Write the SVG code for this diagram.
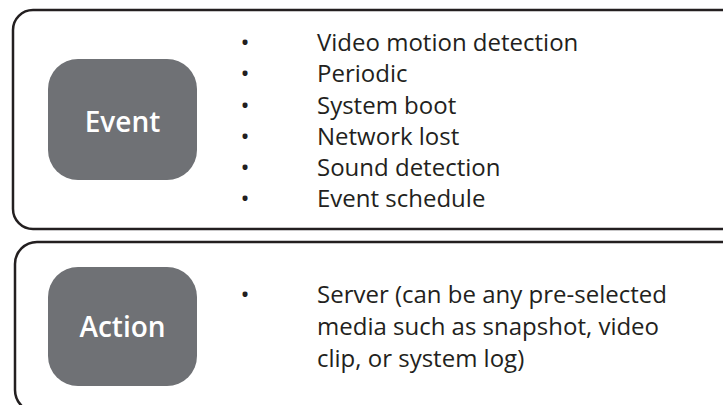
<svg xmlns="http://www.w3.org/2000/svg" width="723" height="405" viewBox="0 0 723 405">
<style>
.frame{fill:#fff;stroke:#231f20;stroke-width:2.5}
.node{fill:#6f7175}
.lbl{font-family:"Open Sans","Noto Sans",sans-serif;font-weight:600;font-size:28px;fill:#fff;text-anchor:middle}
.item{font-family:"Open Sans","Noto Sans",sans-serif;font-size:24px;fill:#231f20}
.bul{font-family:"Open Sans","Noto Sans",sans-serif;font-size:24px;fill:#231f20;text-anchor:middle}
</style>
<rect width="723" height="405" fill="#fff"/>
<g id="event-panel">
<rect class="frame" x="13" y="10" width="740" height="219" rx="20"/>
<g id="event">
<rect class="node" x="48" y="59" width="149" height="121" rx="30"/>
<text class="lbl" x="122.5" y="132">Event</text>
</g>
<g id="event-list">
<text class="bul" x="245" y="51">•</text>
<text class="bul" x="245" y="82">•</text>
<text class="bul" x="245" y="113.5">•</text>
<text class="bul" x="245" y="144.5">•</text>
<text class="bul" x="245" y="176">•</text>
<text class="bul" x="245" y="207">•</text>
<text class="item" x="317" y="51">Video motion detection</text>
<text class="item" x="317" y="82">Periodic</text>
<text class="item" x="317" y="113.5">System boot</text>
<text class="item" x="317" y="144.5">Network lost</text>
<text class="item" x="317" y="176">Sound detection</text>
<text class="item" x="317" y="207">Event schedule</text>
</g>
</g>
<g id="action-panel">
<rect class="frame" x="15" y="242" width="740" height="170" rx="22"/>
<g id="action">
<rect class="node" x="48" y="267" width="149" height="119" rx="30"/>
<text class="lbl" x="122.5" y="337">Action</text>
</g>
<g id="action-list">
<text class="bul" x="245" y="303">•</text>
<text class="item" x="317" y="303">Server (can be any pre-selected</text>
<text class="item" x="317" y="335">media such as snapshot, video</text>
<text class="item" x="317" y="367">clip, or system log)</text>
</g>
</g>
<g id="connectors"></g>
</svg>
